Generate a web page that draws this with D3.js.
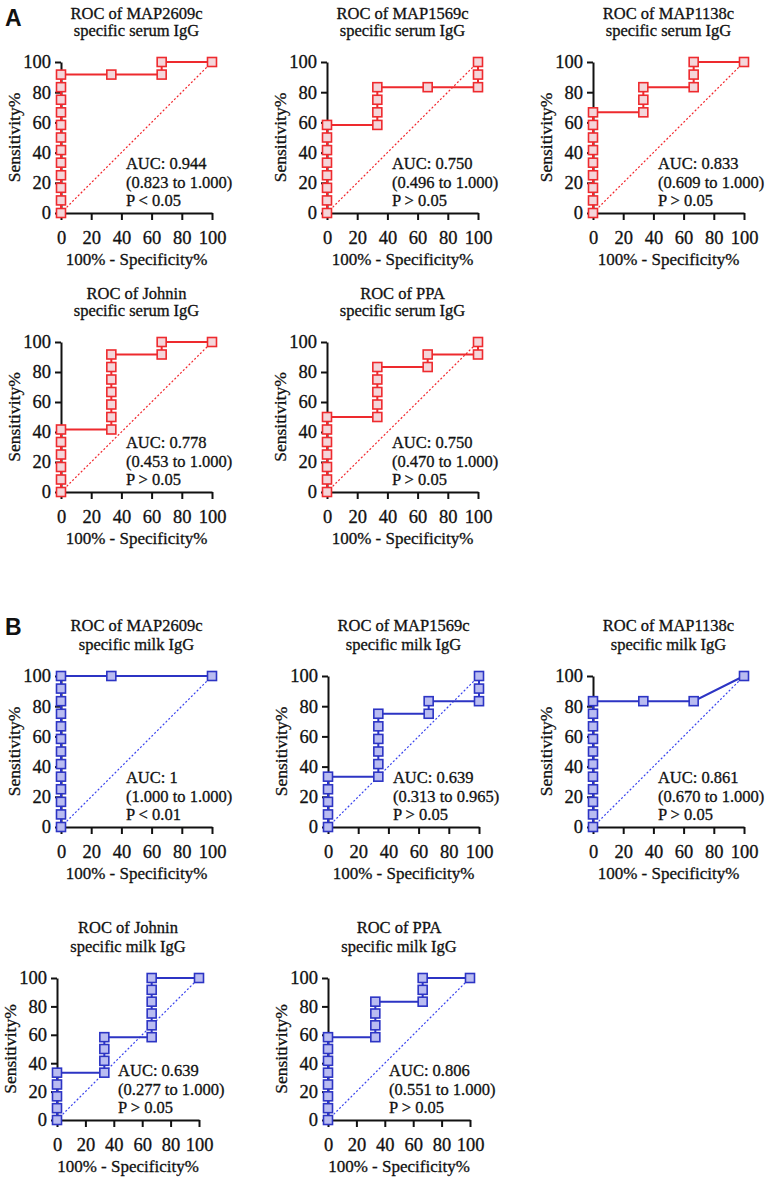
<!DOCTYPE html>
<html>
<head>
<meta charset="utf-8">
<script src="https://cdn.jsdelivr.net/npm/d3@7"></script>
<style>
  body { margin: 0; background: #fff; }
  svg text { font-family: "Liberation Serif", "Times New Roman", serif; fill: #111; }
  .axis path, .axis line { stroke: #111; stroke-width: 2; }
  .panel-label { font-family: "Liberation Sans", Arial, sans-serif !important; font-weight: bold; font-size: 23px; }
</style>
</head>
<body>
<div id="chart"></div>
<script>
// ---- data (x = 100% - Specificity%, y = Sensitivity%) ----
const serumMAP2609c = [[0,0],[0,8.33],[0,16.67],[0,25],[0,33.33],[0,41.67],[0,50],[0,58.33],[0,66.67],[0,75],[0,83.33],[0,91.67],[33.33,91.67],[66.67,91.67],[66.67,100],[100,100]];
const serumMAP1569c = [[0,0],[0,8.33],[0,16.67],[0,25],[0,33.33],[0,41.67],[0,50],[0,58.33],[33.33,58.33],[33.33,66.67],[33.33,75],[33.33,83.33],[66.67,83.33],[100,83.33],[100,91.67],[100,100]];
const serumMAP1138c = [[0,0],[0,8.33],[0,16.67],[0,25],[0,33.33],[0,41.67],[0,50],[0,58.33],[0,66.67],[33.33,66.67],[33.33,75],[33.33,83.33],[66.67,83.33],[66.67,91.67],[66.67,100],[100,100]];
const serumJohnin = [[0,0],[0,8.33],[0,16.67],[0,25],[0,33.33],[0,41.67],[33.33,41.67],[33.33,50],[33.33,58.33],[33.33,66.67],[33.33,75],[33.33,83.33],[33.33,91.67],[66.67,91.67],[66.67,100],[100,100]];
const serumPPA = [[0,0],[0,8.33],[0,16.67],[0,25],[0,33.33],[0,41.67],[0,50],[33.33,50],[33.33,58.33],[33.33,66.67],[33.33,75],[33.33,83.33],[66.67,83.33],[66.67,91.67],[100,91.67],[100,100]];
const milkMAP2609c = [[0,0],[0,8.33],[0,16.67],[0,25],[0,33.33],[0,41.67],[0,50],[0,58.33],[0,66.67],[0,75],[0,83.33],[0,91.67],[0,100],[33.33,100],[100,100]];
const milkMAP1569c = [[0,0],[0,8.33],[0,16.67],[0,25],[0,33.33],[33.33,33.33],[33.33,41.67],[33.33,50],[33.33,58.33],[33.33,66.67],[33.33,75],[66.67,75],[66.67,83.33],[100,83.33],[100,91.67],[100,100]];
const milkMAP1138c = [[0,0],[0,8.33],[0,16.67],[0,25],[0,33.33],[0,41.67],[0,50],[0,58.33],[0,66.67],[0,75],[0,83.33],[33.33,83.33],[66.67,83.33],[100,100]];
const milkJohnin = [[0,0],[0,8.33],[0,16.67],[0,25],[0,33.33],[33.33,33.33],[33.33,41.67],[33.33,50],[33.33,58.33],[66.67,58.33],[66.67,66.67],[66.67,75],[66.67,83.33],[66.67,91.67],[66.67,100],[100,100]];
const milkPPA = [[0,0],[0,8.33],[0,16.67],[0,25],[0,33.33],[0,41.67],[0,50],[0,58.33],[33.33,58.33],[33.33,66.67],[33.33,75],[33.33,83.33],[66.67,83.33],[66.67,91.67],[66.67,100],[100,100]];

const titleLines = [
  ['ROC of MAP2609c', 'specific serum IgG'],
  ['ROC of MAP1569c', 'specific serum IgG'],
  ['ROC of MAP1138c', 'specific serum IgG'],
  ['ROC of Johnin', 'specific serum IgG'],
  ['ROC of PPA', 'specific serum IgG'],
  ['ROC of MAP2609c', 'specific milk IgG'],
  ['ROC of MAP1569c', 'specific milk IgG'],
  ['ROC of MAP1138c', 'specific milk IgG'],
  ['ROC of Johnin', 'specific milk IgG'],
  ['ROC of PPA', 'specific milk IgG']
];
const aucLines = [
  ['AUC: 0.944', '(0.823 to 1.000)', 'P < 0.05'],
  ['AUC: 0.750', '(0.496 to 1.000)', 'P > 0.05'],
  ['AUC: 0.833', '(0.609 to 1.000)', 'P > 0.05'],
  ['AUC: 0.778', '(0.453 to 1.000)', 'P > 0.05'],
  ['AUC: 0.750', '(0.470 to 1.000)', 'P > 0.05'],
  ['AUC: 1', '(1.000 to 1.000)', 'P < 0.01'],
  ['AUC: 0.639', '(0.313 to 0.965)', 'P > 0.05'],
  ['AUC: 0.861', '(0.670 to 1.000)', 'P > 0.05'],
  ['AUC: 0.639', '(0.277 to 1.000)', 'P > 0.05'],
  ['AUC: 0.806', '(0.551 to 1.000)', 'P > 0.05']
];
const tickValues = [0, 20, 40, 60, 80, 100];
const xLabelText = '100% - Specificity%';
const yLabelText = 'Sensitivity%';

const serif = '"Liberation Serif", "Times New Roman", serif';

// colour sets
const red = {stroke: '#ee2a2e', fill: '#f4d6da', diag: '#f2262c'};
const blue = {stroke: '#2c34c4', fill: '#b9bcf1', diag: '#3a44ee'};

// layout of each panel (left = y axis x, top = y of 100)
const layout = [
  {data: serumMAP2609c, left: 61, top: 62, w: 151, h: 151, c: red, gap: 17.5},
  {data: serumMAP1569c, left: 327, top: 62, w: 151, h: 151, c: red, gap: 17.5},
  {data: serumMAP1138c, left: 593, top: 62, w: 151, h: 151, c: red, gap: 17.5},
  {data: serumJohnin, left: 61, top: 342, w: 151, h: 150, c: red, gap: 17.5},
  {data: serumPPA, left: 327, top: 342, w: 151, h: 150, c: red, gap: 17.5},
  {data: milkMAP2609c, left: 61, top: 676, w: 151, h: 151, c: blue, gap: 19},
  {data: milkMAP1569c, left: 328, top: 676, w: 151, h: 151, c: blue, gap: 19},
  {data: milkMAP1138c, left: 593, top: 676, w: 151, h: 151, c: blue, gap: 19},
  {data: milkJohnin, left: 57, top: 978, w: 142, h: 142, c: blue, gap: 19},
  {data: milkPPA, left: 328, top: 978, w: 142, h: 142, c: blue, gap: 19}
];

const svg = d3.select('#chart').append('svg')
    .attr('width', 767)
    .attr('height', 1177);

svg.append('text').classed('panel-label', true).attr('x', 5).attr('y', 26).text('A');
svg.append('text').classed('panel-label', true).attr('x', 5).attr('y', 635).text('B');

// serif text helper (thin stroke to match the heavier print look)
function label(g, x, y, size, txt, anchor) {
    return g.append('text')
        .attr('x', x).attr('y', y)
        .attr('text-anchor', anchor || 'start')
        .style('font-family', serif)
        .style('font-size', size + 'px')
        .style('stroke', '#111')
        .style('stroke-width', 0.3)
        .text(txt);
}

layout.forEach((p, i) => {
    let x = d3.scaleLinear().domain([0, 100]).range([p.left, p.left + p.w]),
        y = d3.scaleLinear().domain([0, 100]).range([p.top + p.h, p.top]),
        g = svg.append('g'),
        cx = p.left + p.w / 2,
        bottom = p.top + p.h;

    // title
    label(g, cx, p.top - 32 - p.gap + 6, 16.5, titleLines[i][0], 'middle');
    label(g, cx, p.top - 32 + 6, 16.5, titleLines[i][1], 'middle');

    // reference diagonal
    g.append('line')
        .attr('x1', x(0)).attr('y1', y(0))
        .attr('x2', x(100)).attr('y2', y(100))
        .attr('stroke', p.c.diag)
        .attr('stroke-width', 1.2)
        .attr('stroke-dasharray', '2,2');

    // axes
    let xAxis = g.append('g').classed('axis', true)
        .attr('transform', `translate(0,${bottom})`)
        .call(d3.axisBottom(x).tickValues(tickValues).tickSize(7).tickPadding(11).tickSizeOuter(0));
    let yAxis = g.append('g').classed('axis', true)
        .attr('transform', `translate(${p.left},0)`)
        .call(d3.axisLeft(y).tickValues(tickValues).tickSize(6).tickPadding(4).tickSizeOuter(0));
    [xAxis, yAxis].forEach(a => a.attr('font-family', null).attr('font-size', null)
        .selectAll('text')
        .style('font-family', serif)
        .style('font-size', '18.5px')
        .style('stroke', '#111')
        .style('stroke-width', 0.3)
        .attr('fill', '#111'));

    // axis titles
    label(g, cx, bottom + 52, 17, xLabelText, 'middle');
    label(g, 0, 0, 17.5, yLabelText, 'middle')
        .attr('transform', `translate(${p.left - 41},${p.top + p.h / 2}) rotate(-90)`);

    // ROC curve
    g.append('path')
        .datum(p.data)
        .attr('fill', 'none')
        .attr('stroke', p.c.stroke)
        .attr('stroke-width', 2)
        .attr('d', d3.line().x(d => x(d[0])).y(d => y(d[1])));

    g.selectAll('rect.pt')
        .data(p.data).enter()
        .append('rect')
        .attr('x', d => x(d[0]) - 4.5)
        .attr('y', d => y(d[1]) - 4.5)
        .attr('width', 9).attr('height', 9)
        .attr('fill', p.c.fill)
        .attr('stroke', p.c.stroke)
        .attr('stroke-width', 1.6);

    // AUC text
    aucLines[i].forEach((t, j) => {
        label(g, p.left + p.w * 0.43, bottom - 44 + j * 18.5, 16.5, t);
    });
});
</script>
</body>
</html>
